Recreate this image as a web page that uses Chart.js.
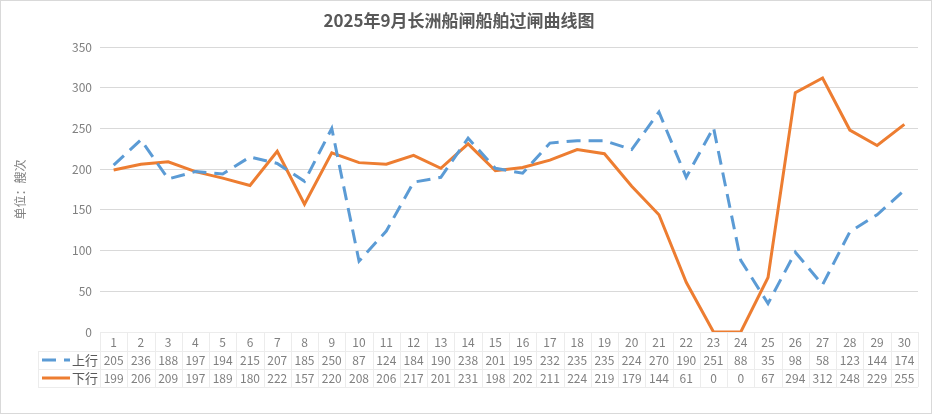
<!DOCTYPE html>
<html>
<head>
<meta charset="utf-8">
<script src="https://cdn.jsdelivr.net/npm/chart.js@4"></script>
<style>
  body { margin: 0; background: #fff; }
  canvas { display: block; }
</style>
</head>
<body>
<canvas id="lockChart" width="932" height="414"></canvas>
<script>
const days = ['1','2','3','4','5','6','7','8','9','10','11','12','13','14','15','16','17','18','19','20','21','22','23','24','25','26','27','28','29','30'];
const upstream = [205,236,188,197,194,215,207,185,250,87,124,184,190,238,201,195,232,235,235,224,270,190,251,88,35,98,58,123,144,174];
const downstream = [199,206,209,197,189,180,222,157,220,208,206,217,201,231,198,202,211,224,219,179,144,61,0,0,67,294,312,248,229,255];
const yTicks = [0, 50, 100, 150, 200, 250, 300, 350];

const FONT = '"Noto Sans CJK SC", "Noto Sans", sans-serif';
const TEXT = '#595959';
const SOFT = '#808080';

// data table drawn under the plot, lined up with the x scale
const tablePlugin = {
    id: 'dataTable',
    beforeDraw(chart) {
        const c = chart.ctx;
        c.save();
        c.fillStyle = '#fff';
        c.fillRect(0, 0, chart.width, chart.height);
        c.restore();
    },
    afterDraw(chart) {
        const c = chart.ctx;
        const x = chart.scales.x;
        const area = chart.chartArea;
        const colW = (area.right - area.left) / days.length;
        const rowH = 18;
        const top = area.bottom;
        const legendLeft = 38;

        c.save();
        c.strokeStyle = '#ececec';
        c.lineWidth = 1;
        // horizontal lines
        c.beginPath();
        c.moveTo(area.left, top + 0.5);
        c.lineTo(area.right, top + 0.5);
        for (let r = 1; r <= 3; r++) {
            const y = Math.round(top + r * rowH + 1) + 0.5;
            c.moveTo(legendLeft, y);
            c.lineTo(area.right, y);
        }
        // vertical lines
        for (let i = 0; i <= days.length; i++) {
            const xx = Math.round(area.left + i * colW) + 0.5;
            c.moveTo(xx, top);
            c.lineTo(xx, top + 3 * rowH + 1);
        }
        c.moveTo(legendLeft + 0.5, top + rowH + 1);
        c.lineTo(legendLeft + 0.5, top + 3 * rowH + 1);
        c.stroke();

        c.font = '12px ' + FONT;
        c.fillStyle = SOFT;
        c.textAlign = 'center';
        c.textBaseline = 'middle';
        days.forEach((d, i) => {
            const px = x.getPixelForValue(i);
            c.fillText(d, px, top + rowH / 2 + 1);
            c.fillText(String(upstream[i]), px, top + rowH * 1.5 + 1);
            c.fillText(String(downstream[i]), px, top + rowH * 2.5 + 1);
        });

        // legend keys
        chart.data.datasets.forEach((ds, k) => {
            const y = top + rowH * (1.5 + k) + 1;
            c.strokeStyle = ds.borderColor;
            c.lineWidth = 3;
            c.setLineDash(ds.borderDash || []);
            c.beginPath();
            c.moveTo(42, y);
            c.lineTo(70, y);
            c.stroke();
            c.setLineDash([]);
            c.fillStyle = TEXT;
            c.textAlign = 'left';
            c.font = '13px ' + FONT;
            c.fillText(ds.label, 72, y);
        });

        // outer frame
        c.strokeStyle = '#d9d9d9';
        c.lineWidth = 1;
        c.strokeRect(0.5, 0.5, chart.width - 1, chart.height - 1);
        c.restore();
    }
};

new Chart(document.getElementById('lockChart'), {
    type: 'line',
    data: {
        labels: days,
        datasets: [{
            label: '上行',
            data: upstream,
            borderColor: '#5b9bd5',
            borderWidth: 3,
            borderDash: [14, 8],
            pointRadius: 0,
            tension: 0
        }, {
            label: '下行',
            data: downstream,
            borderColor: '#ed7d31',
            borderWidth: 3,
            pointRadius: 0,
            tension: 0
        }]
    },
    options: {
        responsive: false,
        animation: false,
        layout: { padding: { left: 0, right: 14, top: 0, bottom: 0 } },
        plugins: {
            legend: { display: false },
            tooltip: { enabled: false },
            title: {
                display: true,
                text: '2025年9月长洲船闸船舶过闸曲线图',
                color: TEXT,
                font: { family: FONT, size: 17, weight: 'bold' },
                padding: { top: 10, bottom: 16.6 }
            }
        },
        scales: {
            x: {
                offset: true,
                ticks: { display: false },
                grid: { display: false },
                border: { display: false },
                afterFit(scale) { scale.height = 82; }
            },
            y: {
                min: 0,
                max: 350,
                afterBuildTicks(scale) { scale.ticks = yTicks.map(v => ({ value: v })); },
                afterFit(scale) { scale.width = 100; },
                ticks: {
                    color: SOFT,
                    padding: 8,
                    font: { family: FONT, size: 12 }
                },
                grid: {
                    drawTicks: false,
                    color: ctx => ctx.tick && ctx.tick.value === 0 ? '#ececec' : '#d9d9d9'
                },
                border: { display: false },
                title: {
                    display: true,
                    text: '单位：艘次',
                    color: SOFT,
                    font: { family: FONT, size: 12 },
                    padding: { top: 13, bottom: 0 }
                }
            }
        }
    },
    plugins: [tablePlugin]
});
</script>
</body>
</html>
